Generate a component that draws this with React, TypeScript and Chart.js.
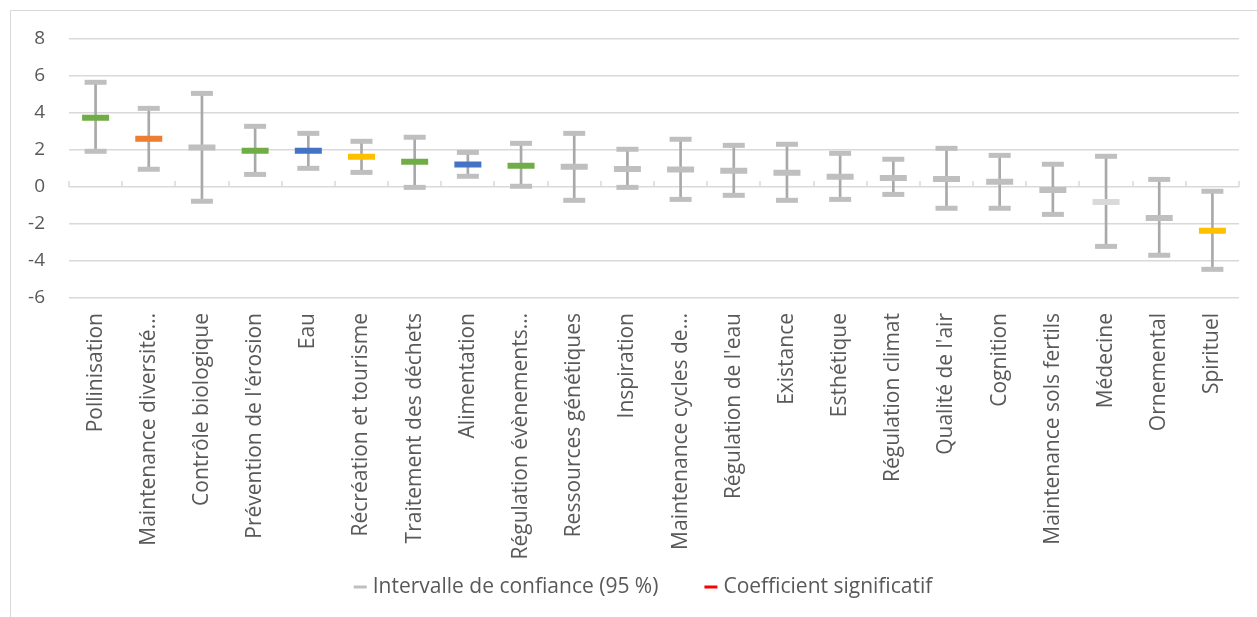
import React, { useEffect, useRef } from "react";
import { Chart, registerables } from "chart.js";

Chart.register(...registerables);

const categories = [
  "Pollinisation",
  "Maintenance diversité…",
  "Contrôle biologique",
  "Prévention de l'érosion",
  "Eau",
  "Récréation et tourisme",
  "Traitement des déchets",
  "Alimentation",
  "Régulation évènements…",
  "Ressources génétiques",
  "Inspiration",
  "Maintenance cycles de…",
  "Régulation de l'eau",
  "Existance",
  "Esthétique",
  "Régulation climat",
  "Qualité de l'air",
  "Cognition",
  "Maintenance sols fertils",
  "Médecine",
  "Ornemental",
  "Spirituel",
];

const coefficients = [
  3.75, 2.61, 2.13, 1.96, 1.96, 1.64, 1.37, 1.21, 1.15, 1.1, 0.97, 0.94, 0.88,
  0.77, 0.56, 0.49, 0.43, 0.29, -0.16, -0.81, -1.68, -2.36,
];

const lowerBounds = [
  1.93, 0.96, -0.77, 0.68, 1.01, 0.79, -0.02, 0.58, 0.04, -0.72, -0.02, -0.67,
  -0.45, -0.72, -0.67, -0.4, -1.15, -1.15, -1.48, -3.21, -3.69, -4.45,
];

const upperBounds = [
  5.66, 4.25, 5.06, 3.28, 2.9, 2.47, 2.69, 1.87, 2.36, 2.9, 2.04, 2.58, 2.25,
  2.31, 1.82, 1.5, 2.09, 1.71, 1.23, 1.66, 0.41, -0.23,
];

const GREEN = "#70AD47";
const ORANGE = "#ED7D31";
const BLUE = "#4472C4";
const YELLOW = "#FFC000";
const GRAY = "#BFBFBF";
const LIGHT = "#D9D9D9";

const meanColors = [
  GREEN, ORANGE, GRAY, GREEN, BLUE, YELLOW, GREEN, BLUE, GREEN, GRAY, GRAY,
  GRAY, GRAY, GRAY, GRAY, GRAY, GRAY, GRAY, GRAY, LIGHT, GRAY, YELLOW,
];

const legendLabels = ["Intervalle de confiance (95 %)", "Coefficient significatif"];
const legendColors = [GRAY, "#FF0000"];

const Y_MIN = -6;
const Y_MAX = 8;
const Y_STEP = 2;

const FONT = "'Open Sans', 'Noto Sans', sans-serif";
const TEXT = "#595959";

export default function App() {
  const ref = useRef<HTMLCanvasElement>(null);

  useEffect(() => {
    if (!ref.current) return;
    const zeroTicks = {
      id: "zeroTicks",
      beforeDatasetsDraw(chart: any) {
        const { ctx, scales } = chart;
        const x = scales.x;
        const y = scales.y;
        const y0 = y.getPixelForValue(0);
        ctx.save();
        ctx.strokeStyle = "#D9D9D9";
        ctx.lineWidth = 1.5;
        for (let i = 0; i <= categories.length; i++) {
          const px = Math.round(x.getPixelForValue(i - 0.5));
          ctx.beginPath();
          ctx.moveTo(px, y0);
          ctx.lineTo(px, y0 - 6);
          ctx.stroke();
        }
        ctx.restore();
      },
    };

    const customLegend = {
      id: "customLegend",
      afterDraw(chart: any) {
        const ctx = chart.ctx;
        ctx.save();
        ctx.font = `21px ${FONT}`;
        ctx.textBaseline = "middle";
        ctx.textAlign = "left";
        const markerW = 13;
        const gap = 6;
        const itemGap = 46;
        const widths = legendLabels.map((t) => ctx.measureText(t).width);
        const total =
          widths.reduce((a, b) => a + b, 0) +
          legendLabels.length * (markerW + gap) +
          itemGap * (legendLabels.length - 1);
        let x = chart.width / 2 + 2 - total / 2;
        const y = chart.height - 44;
        legendLabels.forEach((t, i) => {
          ctx.fillStyle = legendColors[i];
          ctx.fillRect(x, y - 1.5, markerW, 3);
          x += markerW + gap;
          ctx.fillStyle = TEXT;
          ctx.fillText(t, x, y);
          x += widths[i] + itemGap;
        });
        ctx.restore();
      },
    };

    const chart = new Chart(ref.current, {
      type: "bar",
      data: {
        labels: categories,
        datasets: [
          {
            type: "bar",
            label: legendLabels[0],
            data: lowerBounds.map((l, i) => [l, upperBounds[i]]) as any,
            backgroundColor: "#A9A9A9",
            borderWidth: 0,
            barThickness: 2,
            order: 3,
          },
          {
            type: "line",
            label: "upper",
            data: upperBounds,
            showLine: false,
            pointStyle: "line",
            pointRadius: 11,
            pointHoverRadius: 11,
            pointBorderWidth: 5,
            pointBorderColor: GRAY,
            pointBackgroundColor: GRAY,
            order: 2,
          },
          {
            type: "line",
            label: "lower",
            data: lowerBounds,
            showLine: false,
            pointStyle: "line",
            pointRadius: 11,
            pointHoverRadius: 11,
            pointBorderWidth: 5,
            pointBorderColor: GRAY,
            pointBackgroundColor: GRAY,
            order: 2,
          },
          {
            type: "line",
            label: legendLabels[1],
            data: coefficients,
            showLine: false,
            pointStyle: "line",
            pointRadius: 13.5,
            pointHoverRadius: 13.5,
            pointBorderWidth: 6,
            pointBorderColor: meanColors,
            pointBackgroundColor: meanColors,
            order: 1,
          },
        ] as any,
      },
      options: {
        responsive: false,
        animation: false,
        events: [],
        layout: { padding: { left: 0, top: 28, right: 32, bottom: 68 } },
        plugins: {
          tooltip: { enabled: false },
          legend: { display: false },
        },
        scales: {
          x: {
            grid: { display: false, drawTicks: false },
            border: { display: false },
            ticks: {
              autoSkip: false,
              maxRotation: 90,
              minRotation: 90,
              padding: 15,
              color: TEXT,
              font: { family: FONT, size: 21 },
            },
            afterFit: (s: any) => {
              s.height = 265;
            },
          },
          y: {
            min: Y_MIN,
            max: Y_MAX,
            ticks: {
              stepSize: Y_STEP,
              padding: 24,
              color: TEXT,
              font: { family: FONT, size: 19 },
            },
            grid: { color: "#D9D9D9", lineWidth: 1.5, drawTicks: false },
            border: { display: false },
            afterFit: (s: any) => {
              s.width = 58;
              s.paddingTop = 0;
              s.paddingBottom = 0;
            },
          },
        },
      } as any,
      plugins: [zeroTicks, customLegend],
    });
    return () => chart.destroy();
  }, []);

  return (
    <div
      style={{
        position: "fixed",
        left: 0,
        top: 0,
        width: "100vw",
        height: "100vh",
        overflow: "hidden",
        background: "#fff",
      }}
    >
      <div
        style={{
          position: "absolute",
          left: 10,
          top: 10,
          width: 1260,
          height: 620,
          border: "1px solid #D9D9D9",
        }}
      >
        <canvas
          ref={ref}
          width={1260}
          height={620}
          style={{ display: "block", width: 1260, height: 620 }}
        />
      </div>
    </div>
  );
}
